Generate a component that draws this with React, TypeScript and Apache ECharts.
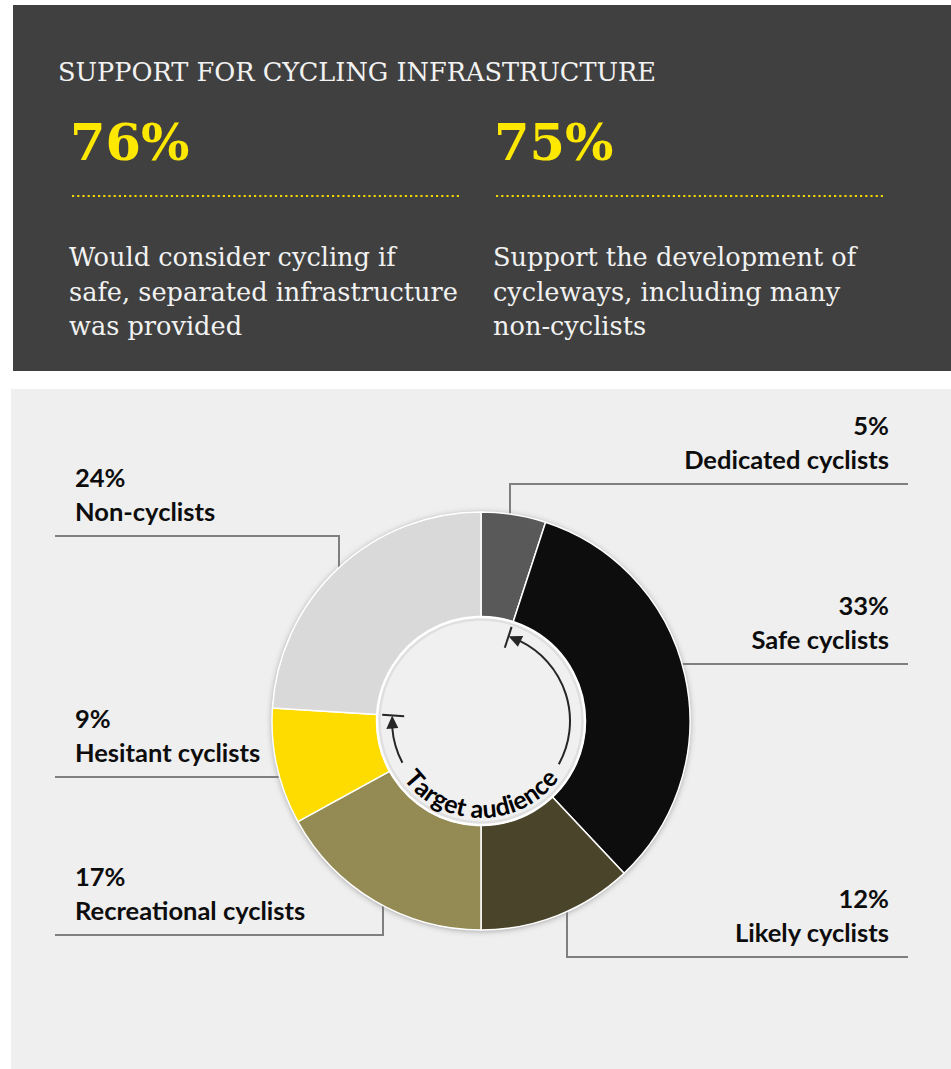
import React, { useEffect, useRef } from "react";
import * as echarts from "echarts";

// ---------- data ----------
const segmentNames = [
  "Dedicated cyclists",
  "Safe cyclists",
  "Likely cyclists",
  "Recreational cyclists",
  "Hesitant cyclists",
  "Non-cyclists",
];
const segmentValues = [5, 33, 12, 17, 9, 24];
const segmentColors = ["#595959", "#0d0d0d", "#4a452a", "#948a54", "#ffdc00", "#d9d9d9"];

const headlineTitle = "SUPPORT FOR CYCLING INFRASTRUCTURE";
const statValues = ["76%", "75%"];
const statTexts = [
  ["Would consider cycling if", "safe, separated infrastructure", "was provided"],
  ["Support the development of", "cycleways, including many", "non-cyclists"],
];
const innerLabel = "Target audience";
// target audience spans these segments (Safe .. Hesitant)
const targetFirst = 1;
const targetLast = 4;

// ---------- layout (positions / styles only) ----------
const W = 951;
const H = 1069;
const CX = 481;
const CY = 721;
const R_OUT = 209;
const R_IN = 104;

const labelLayouts = [
  { side: "right", lineY: 484, anchorX: 510 },
  { side: "right", lineY: 664, anchorX: null },
  { side: "right", lineY: 957, anchorX: 567 },
  { side: "left", lineY: 935, anchorX: 383 },
  { side: "left", lineY: 777, anchorX: null },
  { side: "left", lineY: 536, anchorX: 339 },
];
const RIGHT_TEXT_X = 889;
const RIGHT_LINE_X = 908;
const LEFT_TEXT_X = 75;
const LEFT_LINE_X = 55;

const SERIF = "'DejaVu Serif', serif";
const SANS = "Lato, 'Open Sans', sans-serif";

function buildCurvedText(): any[] {
  const fs = 25;
  const canvas = document.createElement("canvas");
  const ctx = canvas.getContext("2d")!;
  ctx.font = `bold ${fs}px Lato`;
  const chars = innerLabel.split("");
  const widths = chars.map((c) => ctx.measureText(c).width);
  const total = widths.reduce((a, b) => a + b, 0);
  const spacingR = 96;
  const placeR = 87;
  const els: any[] = [];
  let s = 0;
  chars.forEach((c, i) => {
    const mid = s + widths[i] / 2;
    s += widths[i];
    const phi = (mid - total / 2) / spacingR; // from bottom, + to the right
    els.push({
      type: "text",
      z: 120,
      x: CX + placeR * Math.sin(phi),
      y: CY + placeR * Math.cos(phi),
      rotation: phi,
      style: {
        text: c,
        fontFamily: SANS,
        fontWeight: "bold",
        fontSize: fs,
        fill: "#000000",
        align: "center",
        verticalAlign: "middle",
      },
    });
  });
  return els;
}

function boundaryAngle(idx: number): number {
  const total = segmentValues.reduce((a, b) => a + b, 0);
  let cum = 0;
  for (let i = 0; i < idx; i++) cum += segmentValues[i];
  return -Math.PI / 2 + (cum / total) * Math.PI * 2;
}

function arrowParts(tipAngle: number, startAngle: number, r: number): any[] {
  const dir = tipAngle > startAngle ? 1 : -1;
  const headLen = 13;
  const headHalf = 6;
  const baseAngle = tipAngle - (dir * headLen) / r;
  const p = (a: number, rr: number) => [CX + rr * Math.cos(a), CY + rr * Math.sin(a)];
  const color = "#262626";
  return [
    {
      type: "arc",
      z: 110,
      shape: {
        cx: CX,
        cy: CY,
        r,
        startAngle: Math.min(startAngle, baseAngle + dir * 0.01),
        endAngle: Math.max(startAngle, baseAngle + dir * 0.01),
      },
      style: { stroke: color, lineWidth: 2, fill: null },
    },
    {
      type: "polygon",
      z: 111,
      shape: { points: [p(tipAngle, r), p(baseAngle, r - headHalf), p(baseAngle, r + headHalf)] },
      style: { fill: color },
    },
    {
      type: "line",
      z: 111,
      shape: {
        x1: p(tipAngle, r - 12)[0],
        y1: p(tipAngle, r - 12)[1],
        x2: p(tipAngle, r + 10)[0],
        y2: p(tipAngle, r + 10)[1],
      },
      style: { stroke: color, lineWidth: 2 },
    },
  ];
}

export default function App() {
  const ref = useRef<HTMLDivElement>(null);
  useEffect(() => {
    if (!ref.current) return;
    const chart = echarts.init(ref.current, null, { renderer: "svg" });

    const graphics: any[] = [
      { type: "rect", z: -10, shape: { x: 13, y: 5, width: 938, height: 366 }, style: { fill: "#404040" } },
      { type: "rect", z: -10, shape: { x: 11, y: 389, width: 940, height: 680 }, style: { fill: "#efefef" } },
      {
        type: "text",
        x: 58,
        y: 72,
        style: { text: headlineTitle, fontFamily: SERIF, fontSize: 25.6, fill: "#f2f2f2", verticalAlign: "middle" },
      },
    ];
    const colX = [70, 494];
    statValues.forEach((v, i) => {
      graphics.push({
        type: "text",
        x: colX[i],
        y: 142,
        style: { text: v, fontFamily: SERIF, fontWeight: "bold", fontSize: 51, fill: "#ffe800", verticalAlign: "middle" },
      });
      graphics.push({
        type: "line",
        shape: { x1: colX[i] + 2, y1: 196, x2: colX[i] + 391, y2: 196 },
        style: { stroke: "#f0d400", lineWidth: 2.2, lineDash: [2.2, 3] },
      });
      graphics.push({
        type: "text",
        x: colX[i] - 1,
        y: 257 - 17,
        style: {
          text: statTexts[i].join("\n"),
          fontFamily: SERIF,
          fontSize: 25.6,
          lineHeight: 34.5,
          fill: "#f2f2f2",
          verticalAlign: "top",
        },
      });
    });

    // shadow circle behind the donut
    graphics.push({
      type: "circle",
      z: 0,
      shape: { cx: CX, cy: CY, r: R_OUT },
      style: { fill: "#e0e0e0", shadowBlur: 6, shadowColor: "rgba(0,0,0,0.35)", shadowOffsetY: 1 },
    });
    // inner hole
    graphics.push({
      type: "circle",
      z: 100,
      shape: { cx: CX, cy: CY, r: R_IN },
      style: { fill: "#f0f0f0", stroke: "#ffffff", lineWidth: 2.5 },
    });
    graphics.push({
      type: "circle",
      z: 101,
      shape: { cx: CX, cy: CY, r: R_IN - 2.5 },
      style: { fill: null, stroke: "rgba(0,0,0,0.07)", lineWidth: 2.5 },
    });

    const arrowR = 89;
    const rightTip = boundaryAngle(targetFirst);
    const leftTip = boundaryAngle(targetLast + 1);
    graphics.push(...arrowParts(rightTip, (29 * Math.PI) / 180, arrowR));
    graphics.push(...arrowParts(leftTip, (152 * Math.PI) / 180, arrowR));
    graphics.push(...buildCurvedText());

    const data = segmentNames.map((n, i) => ({
      name: n,
      value: segmentValues[i],
      itemStyle: { color: segmentColors[i] },
    }));

    chart.setOption({
      animation: false,
      backgroundColor: "#ffffff",
      graphic: { elements: graphics },
      series: [
        {
          type: "pie",
          center: [CX, CY],
          radius: [R_IN, R_OUT],
          startAngle: 90,
          clockwise: true,
          avoidLabelOverlap: false,
          silent: true,
          z: 5,
          itemStyle: { borderColor: "#ffffff", borderWidth: 1.5 },
          emphasis: { disabled: true },
          label: {
            show: true,
            position: "outside",
            formatter: (p: any) => `${p.value}%\n${p.name}`,
            fontFamily: SANS,
            fontWeight: "bold",
            fontSize: 25.5,
            lineHeight: 34,
            color: "#0d0d0d",
          },
          labelLine: { show: true, length: 10, length2: 10, smooth: false, lineStyle: { color: "#7f7f7f", width: 2 } },
          labelLayout: (params: any) => {
            const lay = labelLayouts[params.dataIndex];
            const right = lay.side === "right";
            const endX = right ? RIGHT_LINE_X : LEFT_LINE_X;
            let pts: number[][];
            if (lay.anchorX !== null) {
              const dx = lay.anchorX - CX;
              const dy = Math.sqrt(Math.max(0, R_OUT * R_OUT - dx * dx));
              const sy = lay.lineY < CY ? CY - dy : CY + dy;
              pts = [
                [lay.anchorX, sy],
                [lay.anchorX, lay.lineY],
                [endX, lay.lineY],
              ];
            } else {
              const dy = lay.lineY - CY;
              const dx = Math.sqrt(Math.max(0, R_OUT * R_OUT - dy * dy));
              const sx = right ? CX + dx : CX - dx;
              pts = [
                [sx, lay.lineY],
                [sx, lay.lineY],
                [endX, lay.lineY],
              ];
            }
            return {
              x: right ? RIGHT_TEXT_X : LEFT_TEXT_X,
              y: lay.lineY - 8,
              align: right ? "right" : "left",
              verticalAlign: "bottom",
              labelLinePoints: pts,
            };
          },
          data,
        },
      ],
    });
    return () => chart.dispose();
  }, []);
  return (
    <div
      ref={ref}
      style={{ position: "absolute", left: 0, top: 0, width: W + "px", height: H + "px" }}
    />
  );
}
